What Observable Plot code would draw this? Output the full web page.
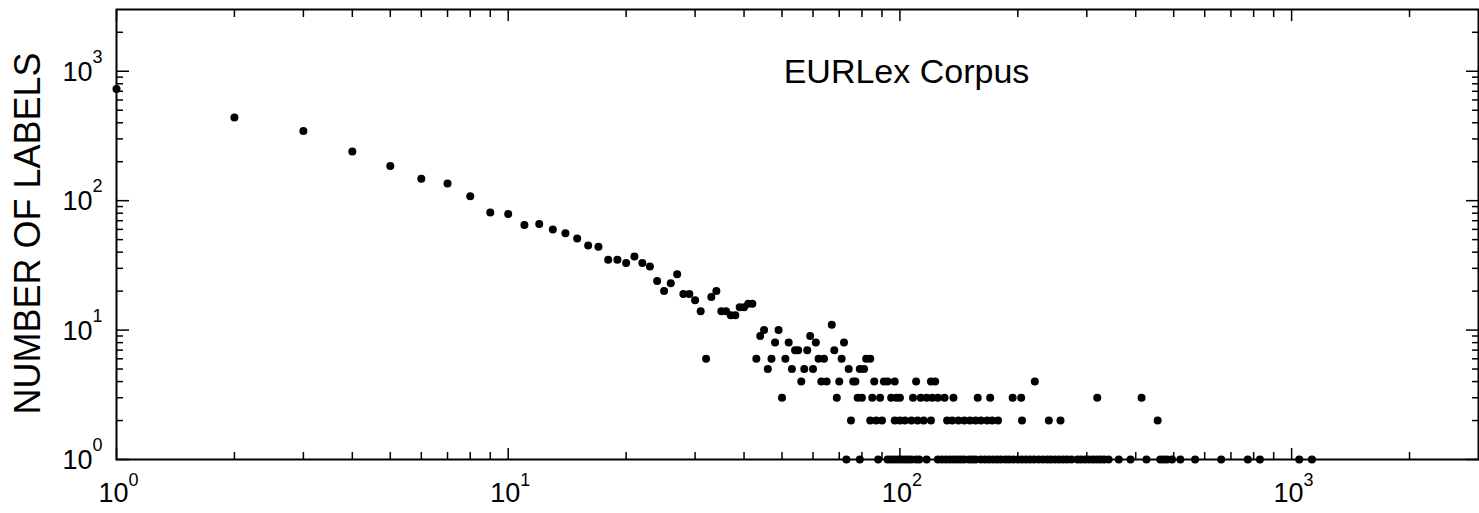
<!DOCTYPE html>
<html>
<head>
<meta charset="utf-8">
<script src="https://cdn.jsdelivr.net/npm/d3@7"></script>
<script src="https://cdn.jsdelivr.net/npm/@observablehq/plot@0.6"></script>
<style>
  html, body { margin: 0; padding: 0; background: #fff; }
  #chart svg { display: block; }
</style>
</head>
<body>
<div id="chart"></div>
<script>
// Head of the distribution: documents per label (x) and number of labels (y)
const headDocs   = [1, 2, 3, 4, 5, 6, 7, 8, 9, 10, 11, 12, 13, 14, 15, 16, 17, 18, 19, 20, 21, 22, 23, 24, 25, 26, 27, 28, 29, 30, 31, 33, 34, 35, 36, 37, 38, 39, 40, 41, 42];
const headLabels = [728, 440, 345, 240, 185, 148, 136, 108, 81, 79, 65, 66, 60, 56, 51, 45, 44, 35, 35, 33, 37, 33, 31, 24, 20, 23, 27, 19, 19, 17, 14, 18, 20, 14, 14, 13, 13, 15, 15, 16, 16];

// Tail: x positions (documents per label) for each small label count
const docsAt11 = [67];
const docsAt10 = [45, 49];
const docsAt9  = [44, 59];
const docsAt8  = [48, 52, 61, 72];
const docsAt7  = [54, 55, 58, 68];
const docsAt6  = [32, 43, 47, 51, 62, 64, 71, 82, 84];
const docsAt5  = [46, 53, 57, 60, 74, 79, 81];
const docsAt4  = [56, 63, 65, 70, 76, 77, 86, 91, 93, 97, 110, 120, 123, 221];
const docsAt3  = [50, 69, 78, 80, 85, 89, 95, 98, 100, 108, 113, 117, 121, 125, 130, 137, 158, 170, 194, 204, 319, 414];
const docsAt2  = [75, 84, 87, 90, 97, 100, 103, 107, 111, 115, 120, 132, 136, 141, 146, 151, 156, 161, 167, 172, 178, 205, 240, 257, 455];
const docsAt1  = [73, 79, 88, 93, 95, 97, 99, 101, 103, 105, 107, 110, 112, 117, 125, 128, 131, 134, 137, 140, 143, 146, 150, 153, 156, 161, 165, 169, 173, 177, 181, 186, 190, 195, 200, 205, 210, 215, 220, 226, 232, 238, 243, 249, 255, 261, 267, 274, 284, 290, 297, 304, 311, 318, 325, 332, 341, 362, 388, 426, 462, 471, 481, 495, 520, 567, 661, 773, 830, 1046, 1127];

// Axis ticks and labels
const majorTicks = [1, 10, 100, 1000];
const tickExponents = ["0", "1", "2", "3"];
const minorTicks = [2, 3, 4, 5, 6, 7, 8, 9, 20, 30, 40, 50, 60, 70, 80, 90, 200, 300, 400, 500, 600, 700, 800, 900, 2000];
const titleText = "EURLex Corpus";
const yTitle = "NUMBER OF LABELS";

const tail = [
  [11, docsAt11], [10, docsAt10], [9, docsAt9], [8, docsAt8], [7, docsAt7],
  [6, docsAt6], [5, docsAt5], [4, docsAt4], [3, docsAt3], [2, docsAt2], [1, docsAt1]
];
const points = headDocs.map((d, i) => ({docs: d, labels: headLabels[i]}));
for (const [count, xs] of tail) for (const d of xs) points.push({docs: d, labels: count});

const font = "'Liberation Sans', Arial, Helvetica, sans-serif";
const noText = () => "";

const chart = Plot.plot({
  width: 1479,
  height: 513,
  marginLeft: 116,
  marginRight: 1,
  marginTop: 9,
  marginBottom: 54,
  style: {fontFamily: font, background: "#fff", color: "#000"},
  x: {type: "log", domain: [1, 3000]},
  y: {type: "log", domain: [1, 3000]},
  marks: [
    Plot.frame({stroke: "#000", strokeWidth: 2}),
    // bottom & top ticks (inward)
    Plot.axisX(majorTicks, {anchor: "bottom", tickSize: -11, tickFormat: noText, label: null, strokeWidth: 1.5}),
    Plot.axisX(minorTicks, {anchor: "bottom", tickSize: -7, tickFormat: noText, label: null, strokeWidth: 1.5}),
    Plot.axisX(majorTicks, {anchor: "top", tickSize: -11, tickFormat: noText, label: null, strokeWidth: 1.5}),
    Plot.axisX(minorTicks, {anchor: "top", tickSize: -7, tickFormat: noText, label: null, strokeWidth: 1.5}),
    // left & right ticks (inward)
    Plot.axisY(majorTicks, {anchor: "left", tickSize: -13, tickFormat: noText, label: null, strokeWidth: 1.5}),
    Plot.axisY(minorTicks, {anchor: "left", tickSize: -7, tickFormat: noText, label: null, strokeWidth: 1.5}),
    Plot.axisY(majorTicks, {anchor: "right", tickSize: -13, tickFormat: noText, label: null, strokeWidth: 1.5}),
    Plot.axisY(minorTicks, {anchor: "right", tickSize: -7, tickFormat: noText, label: null, strokeWidth: 1.5}),
    // x tick labels 10^k
    Plot.text(majorTicks, {x: d => d, frameAnchor: "bottom", text: () => "10", dx: 12, dy: 34, textAnchor: "end", lineAnchor: "middle", fontSize: 27, fill: "#000"}),
    Plot.text(majorTicks, {x: d => d, frameAnchor: "bottom", text: (d, i) => tickExponents[i], dx: 12, dy: 21, textAnchor: "start", lineAnchor: "middle", fontSize: 18, fill: "#000"}),
    // y tick labels 10^k
    Plot.text(majorTicks, {y: d => d, frameAnchor: "left", text: () => "10", dx: -24, dy: 1, textAnchor: "end", lineAnchor: "middle", fontSize: 27, fill: "#000"}),
    Plot.text(majorTicks, {y: d => d, frameAnchor: "left", text: (d, i) => tickExponents[i], dx: -24, dy: -14, textAnchor: "start", lineAnchor: "middle", fontSize: 18, fill: "#000"}),
    // y title
    Plot.text([yTitle], {frameAnchor: "left", dx: -88, dy: -1, rotate: -90, textAnchor: "middle", lineAnchor: "middle", fontSize: 36, fill: "#000"}),
    // chart title
    Plot.text([titleText], {frameAnchor: "top", dx: 109, dy: 63, textAnchor: "middle", lineAnchor: "middle", fontSize: 34, fill: "#000"}),
    // data
    Plot.dot(points, {x: "docs", y: "labels", r: 4, fill: "#000", stroke: null})
  ]
});
document.getElementById("chart").appendChild(chart);
</script>
</body>
</html>
